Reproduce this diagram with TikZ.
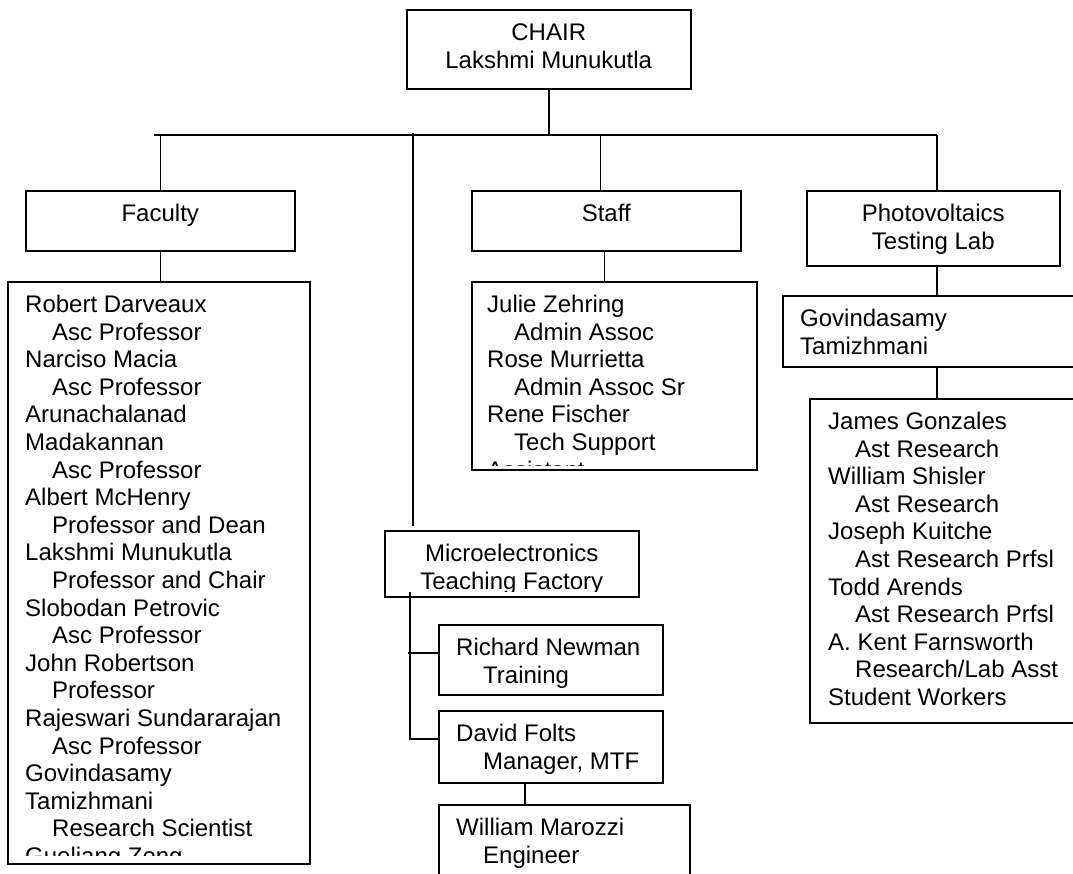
\documentclass[tikz,border=0pt]{standalone}
\usepackage{fontspec}
\setmainfont{Liberation Sans}
\usetikzlibrary{calc}
\newcommand\indt{\hspace*{27pt}}

\begin{document}
\begin{tikzpicture}[x=1pt,y=-1pt,
    box/.style={draw,line width=1.5pt,anchor=north west,inner sep=0pt},
    entry/.style={anchor=base west,inner sep=0pt,font=\fontsize{24}{27.6}\selectfont},
    head/.style={anchor=base,inner sep=0pt,font=\fontsize{24}{27.6}\selectfont},
    link/.style={line width=1.5pt}]
    \useasboundingbox (0,0) rectangle (1073,873);
    \clip (0,0) rectangle (1073,873);

    % Boxes
    \node[box,minimum width=284,minimum height=79] (chair) at (406,9) {};
    \node[box,minimum width=269,minimum height=60] (faculty) at (25,190) {};
    \node[box,minimum width=269,minimum height=60] (staff) at (471,190) {};
    \node[box,minimum width=253,minimum height=75] (pv) at (806,190) {};
    \node[box,minimum width=302,minimum height=582] (faclist) at (7,281) {};
    \node[box,minimum width=285,minimum height=188] (stafflist) at (471,281) {};
    \node[box,minimum width=300,minimum height=71] (gt) at (782,295) {};
    \node[box,minimum width=280,minimum height=324] (pvlist) at (809,398) {};
    \node[box,minimum width=254,minimum height=66] (micro) at (384,530) {};
    \node[box,minimum width=224,minimum height=70] (richard) at (438,624) {};
    \node[box,minimum width=224,minimum height=72] (david) at (438,710) {};
    \node[box,minimum width=251,minimum height=90] (william) at (438,804) {};

    % Connectors
    \coordinate (busL) at (154,135);
    \coordinate (busR) at (937,135);
    \coordinate (mtftop) at (413,133);
    \draw[link] (busL) -- (busR);
    \draw[link] (chair.south) -- (chair.south |- busL);
    \draw[link] (faculty.north |- busL) -- (faculty.north);
    \draw[link] ($(staff.north |- busL)+(-6,0)$) -- ($(staff.north)+(-6,0)$);
    \draw[link] (busR) -- (busR |- pv.north);
    \draw[link] (busR |- pv.south) -- (busR |- gt.north);
    \draw[link] (busR |- gt.south) -- (busR |- pvlist.north);
    \draw[link] (faculty.south) -- (faculty.south |- faclist.north);
    \draw[link] ($(staff.south)+(-2,0)$) -- ($(staff.south |- stafflist.north)+(-2,0)$);
    \draw[link] (mtftop) -- ($(mtftop |- micro.north)+(0,-4)$);
    \coordinate (mtfin) at (410,592);
    \coordinate (djoin) at (410,739);
    \coordinate (rjoin) at (408,653);
    \draw[link] (mtfin) -- (djoin) -- (djoin -| david.west);
    \draw[link] (rjoin) -- (rjoin -| richard.west);
    \coordinate (wmx) at (525,0);
    \draw[link] (wmx |- david.south) -- (wmx |- william.north);

    % Headings
    \node[head] (chairA) at ($(chair.north)+(0,31.5)$) {CHAIR};
    \node[head] (chairB) at ($(chair.north)+(0,59.1)$) {Lakshmi Munukutla};
    \node[head] (facA) at ($(faculty.north)+(0,31.5)$) {Faculty};
    \node[head] (staffA) at ($(staff.north)+(0,31.5)$) {Staff};
    \node[head] (pvA) at ($(pv.north)+(0,31.5)$) {Photovoltaics};
    \node[head] (pvB) at ($(pv.north)+(0,59.1)$) {Testing Lab};
    \begin{scope}
        \clip (micro.north west) rectangle ($(micro.south east)+(0,-6)$);
        \node[head] (microA) at ($(micro.north)+(0,31.5)$) {Microelectronics};
        \node[head] (microB) at ($(micro.north)+(0,59.1)$) {Teaching Factory};
    \end{scope}

    % Lists
    \begin{scope}
        \clip (faclist.north west) rectangle ($(faclist.south east)+(0,-9)$);
        \foreach \t [count=\i from 0] in {Robert Darveaux,\indt Asc Professor,
            Narciso Macia,\indt Asc Professor,Arunachalanad,Madakannan,
            \indt Asc Professor,Albert McHenry,\indt Professor and Dean,
            Lakshmi Munukutla,\indt Professor and Chair,Slobodan Petrovic,
            \indt Asc Professor,John Robertson,\indt Professor,
            Rajeswari Sundararajan,\indt Asc Professor,Govindasamy,Tamizhmani,
            \indt Research Scientist,Guoliang Zeng}
            \node[entry] (fac\i) at ($(faclist.north west)+(18,31.5+27.6*\i)$) {\t};
    \end{scope}
    \begin{scope}
        \clip (stafflist.north west) rectangle ($(stafflist.south east)+(0,-5)$);
        \foreach \t [count=\i from 0] in {Julie Zehring,\indt Admin Assoc,
            Rose Murrietta,\indt Admin Assoc Sr,Rene Fischer,\indt Tech Support,
            Assistant}
            \node[entry] (st\i) at ($(stafflist.north west)+(16,31.5+27.6*\i)$) {\t};
    \end{scope}
    \foreach \t [count=\i from 0] in {Govindasamy,Tamizhmani}
        \node[entry] (gt\i) at ($(gt.north west)+(18,31.5+27.6*\i)$) {\t};
    \foreach \t [count=\i from 0] in {James Gonzales,\indt Ast Research,
        William Shisler,\indt Ast Research,Joseph Kuitche,\indt Ast Research Prfsl,
        Todd Arends,\indt Ast Research Prfsl,A. Kent Farnsworth,
        \indt Research/Lab Asst,Student Workers}
        \node[entry] (pvl\i) at ($(pvlist.north west)+(19,31.5+27.6*\i)$) {\t};
    \begin{scope}
        \clip (richard.north west) rectangle ($(richard.south east)+(0,-8)$);
        \node[entry] (rn0) at ($(richard.north west)+(18,31.5)$) {Richard Newman};
        \node[entry] (rn1) at ($(richard.north west)+(18,59.1)$) {\indt Training};
    \end{scope}
    \node[entry] (df0) at ($(david.north west)+(18,31.5)$) {David Folts};
    \node[entry] (df1) at ($(david.north west)+(18,59.1)$) {\indt Manager, MTF};
    \node[entry] (wm0) at ($(william.north west)+(18,31.5)$) {William Marozzi};
    \node[entry] (wm1) at ($(william.north west)+(18,59.1)$) {\indt Engineer};
\end{tikzpicture}
\end{document}
